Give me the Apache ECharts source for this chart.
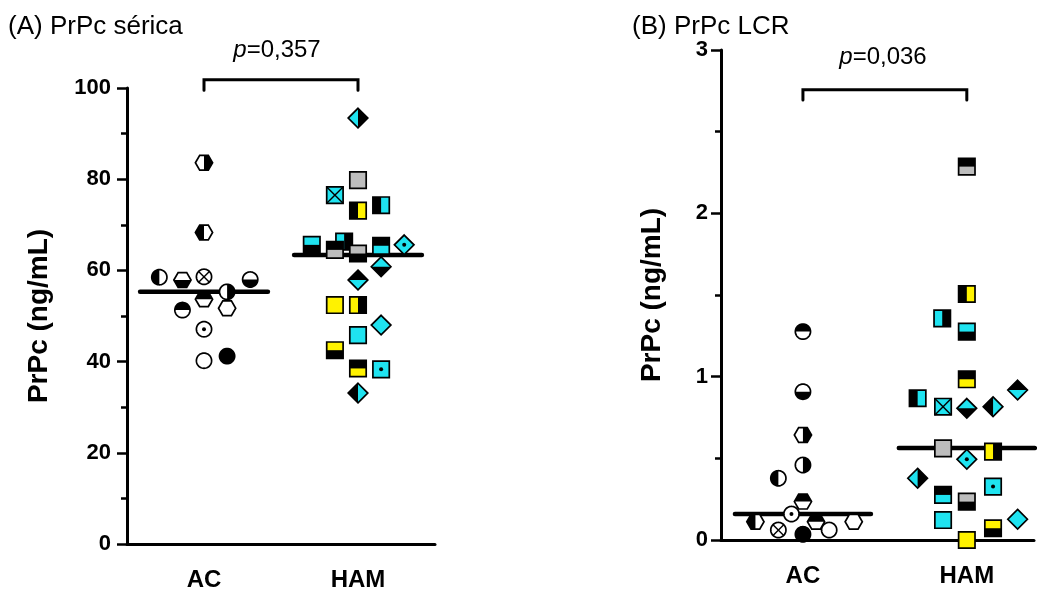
<!DOCTYPE html>
<html><head><meta charset="utf-8">
<script src="https://cdn.jsdelivr.net/npm/echarts@6/dist/echarts.min.js"></script>
<style>html,body{margin:0;padding:0;background:#fff}#c{width:1043px;height:598px}</style>
</head><body><div id="c"></div>
<script>
// ---------- DATA ----------
const groups = ['AC', 'HAM'];
// Panel A: PrPc sérica (ng/mL)
const serumAC = [83.6, 68.3, 58.5, 57.9, 58.6, 58.0, 55.3, 53.7, 51.3, 51.7, 47.1, 40.2, 41.2];
const serumACJitter = [0, 0, -0.29, -0.14, 0, 0.30, 0.15, 0, -0.14, 0.15, 0, 0, 0.15];
const serumACMarkers = ['hx-v-w-k','hx-v-k-w','ci-v-k-w','hx-h-w-k','ci-x-w','ci-h-w-k','ci-v-w-k','hx-h-k-w','ci-h-k-w','hx-f-w','ci-d-w','ci-f-w','ci-f-k'];
const serumHAM = [79.8, 76.5, 73.1, 74.3, 65.6, 66.3, 64.5, 63.7, 65.4, 65.6, 60.8, 57.9, 52.4, 52.4, 48.0, 45.8, 42.5, 38.5, 38.3, 33.1, 93.4];
const serumHAMJitter = [0, -0.15, 0, 0.15, -0.30, -0.09, -0.15, 0, 0.15, 0.30, 0.15, 0, -0.15, 0, 0.15, 0, -0.15, 0, 0.15, 0, 0];
const serumHAMMarkers = ['sq-f-g','sq-x-c','sq-v-k-y','sq-v-k-c','sq-h-c-k','sq-v-c-k','sq-h-k-g','sq-h-g-k','sq-h-k-c','di-d-c','di-h-c-k','di-h-k-c','sq-f-y','sq-v-y-k','di-f-c','sq-f-c','sq-h-y-k','sq-h-k-y','sq-d-c','di-v-k-c','di-v-c-k'];
const serumMedians = [55.3, 63.4];
const serumPText = '=0,357';
const serumTicks = [0, 20, 40, 60, 80, 100];

// Panel B: PrPc LCR (ng/mL)
const csfAC = [1.276, 0.908, 0.643, 0.459, 0.378, 0.235, 0.159, 0.112, 0.061, 0.112, 0.035, 0.061, 0.112];
const csfACJitter = [0, 0, 0, 0, -0.15, 0, -0.07, -0.29, -0.15, 0.08, 0, 0.16, 0.31];
const csfACMarkers = ['ci-h-k-w','ci-h-w-k','hx-v-w-k','ci-v-w-k','ci-v-k-w','hx-h-k-w','ci-d-w','hx-v-k-w','ci-x-w','hx-h-k-w','ci-f-k','ci-f-w','hx-f-w'];
const csfHAM = [2.286, 1.506, 1.357, 1.276, 0.984, 0.868, 0.816, 0.806, 0.816, 0.918, 0.561, 0.541, 0.494, 0.378, 0.276, 0.327, 0.235, 0.122, 0.0, 0.072, 0.127];
const csfHAMJitter = [0, 0, -0.15, 0, 0, -0.30, -0.145, 0, 0.16, 0.31, -0.145, 0.16, 0, -0.30, -0.145, 0.16, 0, -0.145, 0, 0.16, 0.31];
const csfHAMMarkers = ['sq-h-k-g','sq-v-k-y','sq-v-c-k','sq-h-c-k','sq-h-k-y','sq-v-k-c','sq-x-c','di-h-c-k','di-v-k-c','di-h-k-c','sq-f-g','sq-v-y-k','di-d-c','di-v-c-k','sq-h-k-c','sq-d-c','sq-h-g-k','sq-f-c','sq-f-y','sq-h-y-k','di-f-c'];
const csfMedians = [0.159, 0.563];
const csfPText = '=0,036';
const csfTicks = [0, 1, 2, 3];

// ---------- STYLE ----------
const FONT = '"Liberation Sans", Arial, sans-serif';
const COLORS = { k: '#000000', w: '#ffffff', c: '#1fe3f0', y: '#fff200', g: '#bdbdbd' };

function clipHalf(pts, ax, dir) {
  const out = [];
  for (let i = 0; i < pts.length; i++) {
    const a = pts[i], b = pts[(i + 1) % pts.length];
    const ina = a[ax] * dir >= -1e-9, inb = b[ax] * dir >= -1e-9;
    if (ina) out.push(a);
    if (ina !== inb) {
      const t = a[ax] / (a[ax] - b[ax]);
      out.push([a[0] + (b[0] - a[0]) * t, a[1] + (b[1] - a[1]) * t]);
    }
  }
  return out;
}
function outline(shape) {
  if (shape === 'ci') {
    const r = 7.6, pts = [];
    for (let i = 0; i < 48; i++) { const a = i / 48 * Math.PI * 2; pts.push([r * Math.cos(a), r * Math.sin(a)]); }
    return pts;
  }
  if (shape === 'sq') { const h = 8.2; return [[-h,-h],[h,-h],[h,h],[-h,h]]; }
  if (shape === 'di') { const h = 9.8; return [[0,-h],[h,0],[0,h],[-h,0]]; }
  const rx = 8.6, ry = 7.4;
  return [[-rx,0],[-rx/2,-ry],[rx/2,-ry],[rx,0],[rx/2,ry],[-rx/2,ry]];
}
function drawMarker(code, cx, cy) {
  const p = code.split('-');
  const shape = p[0], pat = p[1];
  const pts = outline(shape);
  const children = [];
  let base = COLORS[p[2]];
  if (pat === 'v' || pat === 'h') base = COLORS[p[3]];
  children.push({ type: 'polygon', shape: { points: pts }, style: { fill: base } });
  if (pat === 'v') children.push({ type: 'polygon', shape: { points: clipHalf(pts, 0, -1) }, style: { fill: COLORS[p[2]] } });
  if (pat === 'h') children.push({ type: 'polygon', shape: { points: clipHalf(pts, 1, -1) }, style: { fill: COLORS[p[2]] } });
  if (pat === 'x') {
    const d = shape === 'ci' ? 7.6 * 0.707 : 8.2;
    children.push({ type: 'line', shape: { x1: -d, y1: -d, x2: d, y2: d }, style: { stroke: '#000', lineWidth: 1.4 } });
    children.push({ type: 'line', shape: { x1: -d, y1: d, x2: d, y2: -d }, style: { stroke: '#000', lineWidth: 1.4 } });
  }
  if (pat === 'd') children.push({ type: 'circle', shape: { cx: 0, cy: 0, r: 2 }, style: { fill: '#000' } });
  children.push({ type: 'polygon', shape: { points: pts }, style: { fill: 'none', stroke: '#000', lineWidth: 1.7 } });
  return { type: 'group', x: cx, y: cy, children };
}
function pointSeries(idx, center, values, jitter, markers) {
  return {
    type: 'custom', xAxisIndex: idx, yAxisIndex: idx, z: 5, clip: false,
    data: values.map((v, i) => [center + jitter[i], v, i]),
    renderItem: function (params, api) {
      const c = api.coord([api.value(0), api.value(1)]);
      return drawMarker(markers[api.value(2)], c[0], c[1]);
    }
  };
}
function medianSeries(idx, center, v) {
  return { type: 'line', xAxisIndex: idx, yAxisIndex: idx, z: 3, symbol: 'none', silent: true,
    lineStyle: { color: '#000', width: 4.5, cap: 'round' },
    data: [[center - 0.415, v], [center + 0.415, v]] };
}
function bracketSeries(idx, top, bottom) {
  return { type: 'line', xAxisIndex: idx, yAxisIndex: idx, z: 3, symbol: 'none', silent: true, clip: false,
    lineStyle: { color: '#000', width: 3, cap: 'round', join: 'miter' },
    data: [[1, bottom], [1, top], [2, top], [2, bottom]] };
}
function xAxisCfg(idx, max) {
  return { type: 'value', gridIndex: idx, min: 0.5, max: max, interval: 0.5,
    axisLine: { lineStyle: { color: '#000', width: 3 } }, axisTick: { show: false }, splitLine: { show: false },
    axisLabel: { margin: 24, fontFamily: FONT, fontWeight: 'bold', fontSize: 24, color: '#000',
      showMinLabel: true, showMaxLabel: true,
      formatter: v => (Math.abs(v - 1) < 1e-6 ? groups[0] : (Math.abs(v - 2) < 1e-6 ? groups[1] : '')) } };
}
function yAxisCfg(idx, ticks, gap, margin) {
  const interval = ticks[1] - ticks[0];
  return { type: 'value', gridIndex: idx, min: ticks[0], max: ticks[ticks.length - 1], interval: interval,
    name: 'PrPc (ng/mL)', nameLocation: 'middle', nameGap: gap,
    nameTextStyle: { fontFamily: FONT, fontWeight: 'bold', fontSize: 28, color: '#000' },
    axisLine: { show: true, lineStyle: { color: '#000', width: 3 } },
    axisTick: { show: true, length: 10, lineStyle: { color: '#000', width: 2.5 } },
    minorTick: { show: true, splitNumber: 2, length: 6, lineStyle: { color: '#000', width: 2.5 } },
    splitLine: { show: false },
    axisLabel: { margin: margin, fontFamily: FONT, fontWeight: 'bold', fontSize: 22, color: '#000' } };
}

const chart = echarts.init(document.getElementById('c'), null, { renderer: 'canvas' });
chart.setOption({
  animation: false,
  backgroundColor: '#fff',
  grid: [
    { left: 127, top: 88, width: 308, height: 456 },
    { left: 721, top: 50, width: 313, height: 490 }
  ],
  xAxis: [xAxisCfg(0, 2.5), xAxisCfg(1, 2.41)],
  yAxis: [yAxisCfg(0, serumTicks, 74, 16), yAxisCfg(1, csfTicks, 55, 13)],
  graphic: [
    { type: 'text', x: 8, y: 27, style: { text: '(A) PrPc sérica', font: '26px ' + FONT, fill: '#000', textVerticalAlign: 'middle' } },
    { type: 'text', x: 632, y: 27, style: { text: '(B) PrPc LCR', font: '26px ' + FONT, fill: '#000', textVerticalAlign: 'middle' } },
    { type: 'text', x: 277, y: 50, style: { text: '{i|p}{n|' + serumPText + '}', textAlign: 'center', textVerticalAlign: 'middle',
      rich: { i: { fontStyle: 'italic', fontSize: 24, fontFamily: FONT, fill: '#000' }, n: { fontSize: 24, fontFamily: FONT, fill: '#000' } } } },
    { type: 'text', x: 883, y: 57, style: { text: '{i|p}{n|' + csfPText + '}', textAlign: 'center', textVerticalAlign: 'middle',
      rich: { i: { fontStyle: 'italic', fontSize: 24, fontFamily: FONT, fill: '#000' }, n: { fontSize: 24, fontFamily: FONT, fill: '#000' } } } }
  ],
  series: [
    medianSeries(0, 1, serumMedians[0]),
    medianSeries(0, 2, serumMedians[1]),
    bracketSeries(0, 101.8, 99.5),
    pointSeries(0, 1, serumAC, serumACJitter, serumACMarkers),
    pointSeries(0, 2, serumHAM, serumHAMJitter, serumHAMMarkers),
    medianSeries(1, 1, csfMedians[0]),
    medianSeries(1, 2, csfMedians[1]),
    bracketSeries(1, 2.756, 2.694),
    pointSeries(1, 1, csfAC, csfACJitter, csfACMarkers),
    pointSeries(1, 2, csfHAM, csfHAMJitter, csfHAMMarkers)
  ]
});
</script></body></html>
